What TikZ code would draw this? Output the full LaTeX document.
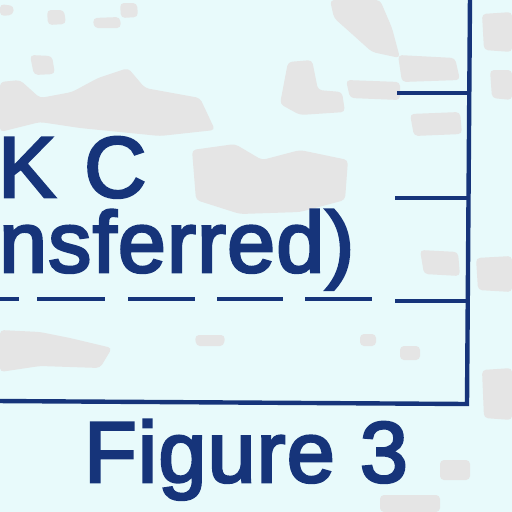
\documentclass[tikz,border=0pt]{standalone}
\usepackage{fontspec}
\setmainfont{Liberation Sans}[FakeBold=3.2, LetterSpace=1.6]
\usepackage{tikz}
\usetikzlibrary{positioning}

\definecolor{paper}{RGB}{232,250,251}
\definecolor{smudge}{RGB}{229,229,229}
\definecolor{ink}{RGB}{22,52,122}

\begin{document}
\begin{tikzpicture}[
		x=1pt, y=-1pt
		,axis/.style={draw=ink, line width=4.4pt, line cap=rect}
		,tick/.style={draw=ink, line width=4.4pt}
		,label/.style={text=ink, inner sep=0pt, anchor=base west, font=\fontsize{86}{86}\selectfont}
		,blot/.style={fill=smudge, rounded corners=4pt}
	]
		% paper and scan smudges
		\fill[paper] (0,0) rectangle (512,512);
		\useasboundingbox (0,0) rectangle (512,512);
		\fill[blot] (0,4) -- (14,6) -- (13,15) -- (0,16) -- cycle;
		\fill[blot] (47,10) -- (64,10) -- (66,24) -- (48,25) -- cycle;
		\fill[blot] (93,18) -- (120,17) -- (121,28) -- (94,28) -- cycle;
		\fill[blot] (120,3) -- (137,3) -- (138,17) -- (121,18) -- cycle;
		\fill[blot] (330,0) -- (380,0) -- (392,28) -- (400,58) -- (372,52) -- (352,34) -- (334,18) -- cycle;
		\fill[blot] (30,55) -- (52,56) -- (55,74) -- (34,75) -- cycle;
		\fill[blot] (0,82) -- (20,80) -- (40,98) -- (72,92) -- (98,78) -- (128,68) -- (145,88) -- (200,98) -- (215,130) -- (160,136) -- (120,132) -- (80,128) -- (40,122) -- (0,132) -- cycle;
		\fill[blot] (288,62) -- (312,60) -- (318,90) -- (342,92) -- (345,112) -- (300,115) -- (280,104) -- cycle;
		\fill[blot] (346,80) -- (400,82) -- (400,100) -- (350,98) -- cycle;
		\fill[blot] (398,55) -- (455,58) -- (460,80) -- (402,82) -- cycle;
		\fill[blot] (410,114) -- (460,112) -- (462,134) -- (414,136) -- cycle;
		\fill[blot] (192,150) -- (235,144) -- (262,160) -- (300,150) -- (348,160) -- (345,200) -- (300,212) -- (240,214) -- (196,200) -- cycle;
		\fill[blot] (482,14) -- (512,12) -- (512,52) -- (484,50) -- cycle;
		\fill[blot] (490,70) -- (512,70) -- (512,100) -- (492,98) -- cycle;
		\fill[blot] (420,250) -- (458,252) -- (460,276) -- (424,274) -- cycle;
		\fill[blot] (476,258) -- (512,256) -- (512,292) -- (478,290) -- cycle;
		\fill[blot] (0,330) -- (40,332) -- (70,338) -- (112,348) -- (100,368) -- (40,366) -- (0,372) -- cycle;
		\fill[blot] (195,335) -- (225,335) -- (224,346) -- (196,346) -- cycle;
		\fill[blot] (360,334) -- (376,334) -- (376,346) -- (360,346) -- cycle;
		\fill[blot] (482,370) -- (512,368) -- (512,420) -- (484,418) -- cycle;
		\fill[blot] (400,346) -- (420,346) -- (420,360) -- (400,360) -- cycle;
		\fill[blot] (440,460) -- (470,460) -- (470,480) -- (440,480) -- cycle;
		\fill[blot] (380,495) -- (440,495) -- (440,512) -- (380,512) -- cycle;

		% frame corner
		\coordinate (top) at (470,-4);
		\coordinate (corner) at (467,404);
		\coordinate (left) at (-4,401);
		\draw[axis] (top) -- (corner) -- (left);

		% ticks on the frame
		\coordinate (t1) at (397,93);
		\coordinate (t2) at (395,198);
		\coordinate (t3) at (395,301);
		\draw[tick] (t1) -- (t1 -| corner);
		\draw[tick] (t2) -- (t2 -| corner);
		\draw[tick] (t3) -- (t3 -| corner);

		% dashed level line
		\foreach \a/\b in {-2/19, 37/105, 128/195, 217/283, 305/372}
			\draw[tick] (\a,299) -- (\b,299);

		% texts
		\node[label] (kc) at (-2,197) {K\,\,C};
		\node[label] (transferred) at (-1,272) {nsferred)};
		\node[label] (caption) at (84,482) {Figure 3};
	\end{tikzpicture}
\end{document}
